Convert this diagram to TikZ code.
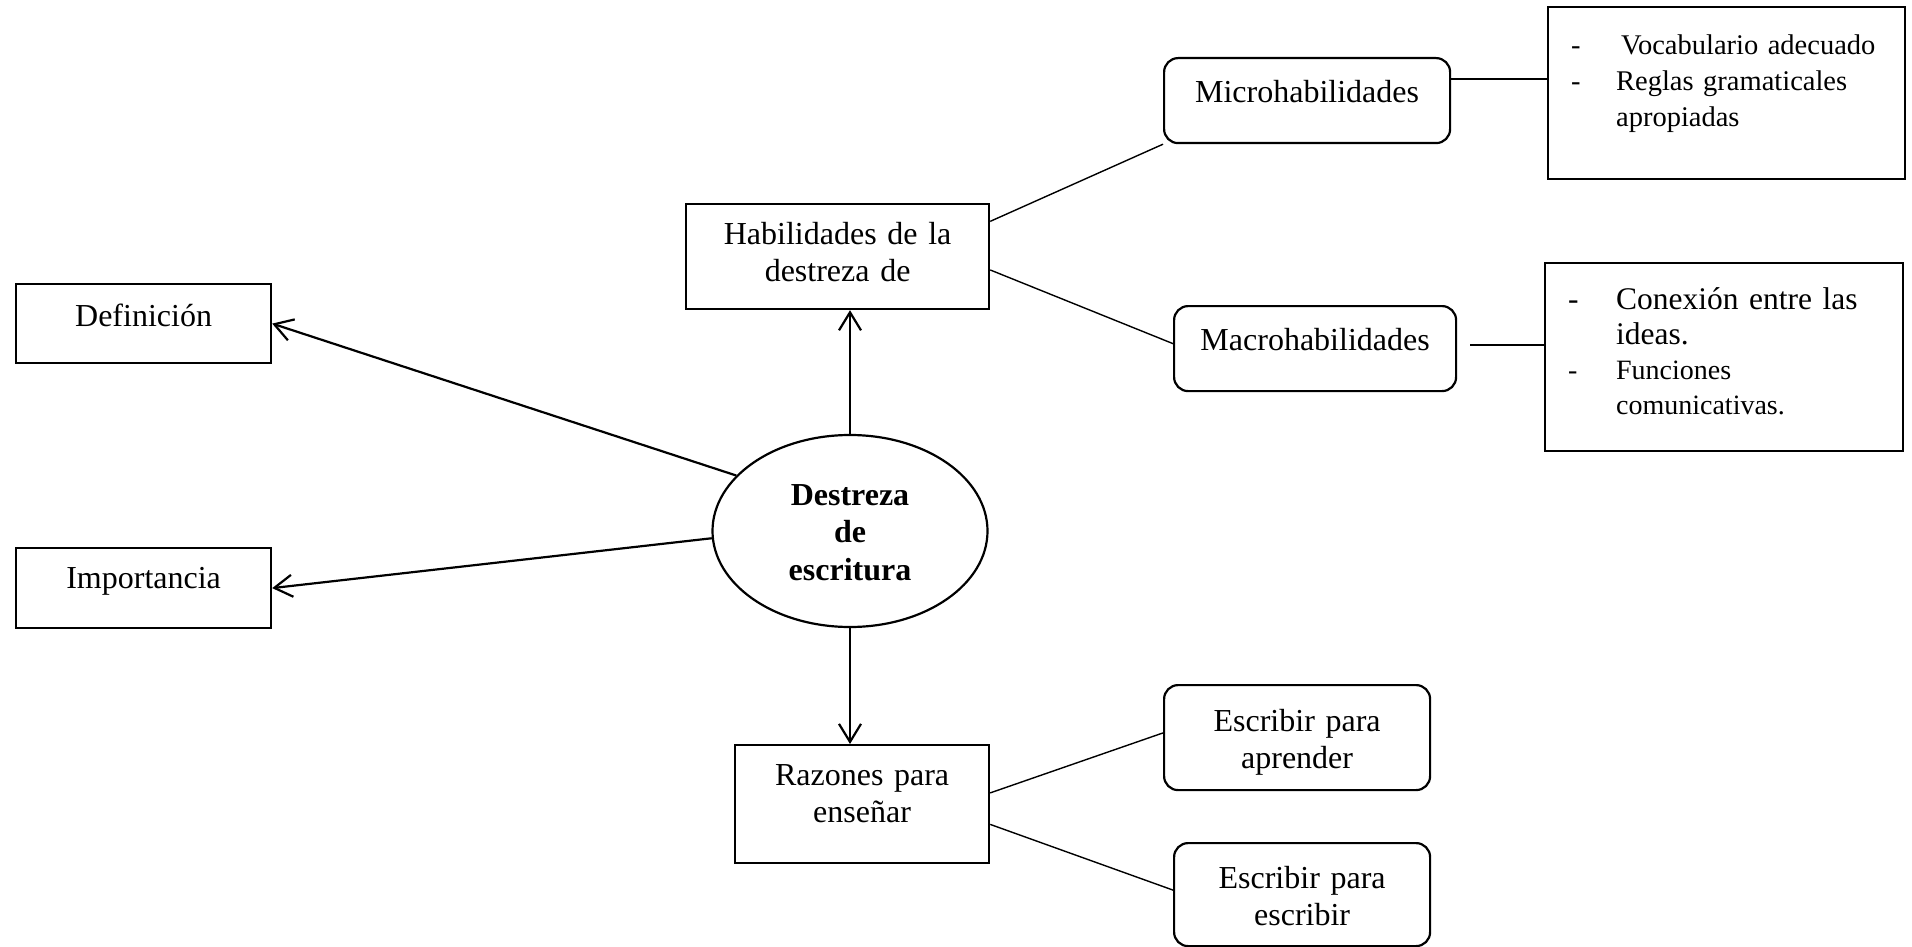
\documentclass[tikz,border=0pt]{standalone}
\usepackage{fontspec}
\setmainfont{Liberation Serif}
\usetikzlibrary{arrows.meta,shapes.geometric}
\newcommand{\mainfs}{\fontsize{32}{37.5}\selectfont}
\newcommand{\itemdash}[1]{\hspace*{23pt}\makebox[#1][l]{-}}
\newcommand{\itemgap}[1]{\hspace*{23pt}\hspace*{#1}}

\begin{document}
\begin{tikzpicture}[
    x=1pt, y=-1pt,
    mybox/.style={
    draw=black,
    line width=2.2pt,
    inner sep=0pt,
    align=center,
    anchor=north west,
    font=\mainfs},
    myround/.style={mybox, rounded corners=14pt},
    mylist/.style={
    draw=black,
    line width=2.2pt,
    inner sep=0pt,
    align=left,
    anchor=north west},
    myellipse/.style={
    ellipse,
    draw=black,
    line width=2.2pt,
    inner sep=0pt,
    minimum width=275pt,
    minimum height=192pt,
    align=center,
    font=\mainfs\bfseries},
    myarrow/.style={-{Straight Barb[length=18pt,width=22pt]}, line width=2.2pt},
    myline/.style={line width=1.4pt}
    ]
    \useasboundingbox (0,0) rectangle (1912,947);

    \node[myellipse, text width=150pt, text height=30pt, text depth=82pt] (dest) at (850,531) {Destreza\\de\\escritura};

    \node[mybox, text width=255pt, text height=42pt, text depth=37pt] (def) at (15,283) {Definición};
    \node[mybox, text width=255pt, text height=40pt, text depth=40pt] (imp) at (15,547) {Importancia};
    \node[mybox, text width=303pt, text height=40pt, text depth=65pt] (hab) at (685,203) {Habilidades de la\\destreza de};
    \node[mybox, text width=254pt, text height=40pt, text depth=78pt] (raz) at (734,744) {Razones para\\enseñar};

    \node[myround, text width=286pt, text height=44pt, text depth=41pt] (micro) at (1163,57) {Microhabilidades};
    \node[myround, text width=282pt, text height=44pt, text depth=41pt] (macro) at (1173,305) {Macrohabilidades};
    \node[myround, text width=266pt, text height=46pt, text depth=59pt] (apr) at (1163,684) {Escribir para\\aprender};
    \node[myround, text width=256pt, text height=45pt, text depth=58pt] (esc) at (1173,842) {Escribir para\\escribir};

    \node[mylist, text width=357pt, text height=47pt, text depth=125pt, font=\fontsize{28.5}{36}\selectfont] (vocab) at (1547,6)
      {\itemdash{45pt}\hspace{5pt}Vocabulario adecuado\\\itemdash{45pt}Reglas gramaticales\\\itemgap{45pt}apropiadas};
    \node[mylist, text width=358pt, text height=46pt, text depth=142pt, font=\fontsize{31.5}{35}\selectfont] (conex) at (1544,262)
      {\itemdash{48pt}Conexión entre las\\\itemgap{48pt}ideas.\\\fontsize{28}{35}\selectfont\itemdash{48pt}Funciones\\\itemgap{48pt}comunicativas.};

    \coordinate (mv) at ([yshift=21.5pt]micro.east);
    \coordinate (mc) at ([yshift=3.5pt]macro.east);

    \draw[myarrow] (dest.154) -- (def.east);
    \draw[myarrow] (dest.183) -- (imp.east);
    \draw[myarrow] (dest.north) -- (dest.north |- hab.south);
    \draw[myarrow] (dest.south) -- (dest.south |- raz.north);
    \draw[myline] (hab.13) -- (micro.south west);
    \draw[myline] (hab.-5) -- (macro.178);
    \draw[myline] (mv) -- (mv -| vocab.west);
    \draw[myline, shorten <=13pt] (mc) -- (mc -| conex.west);
    \draw[myline] (raz.5) -- (apr.178);
    \draw[myline] (raz.-9) -- (esc.178);
\end{tikzpicture}
\end{document}
